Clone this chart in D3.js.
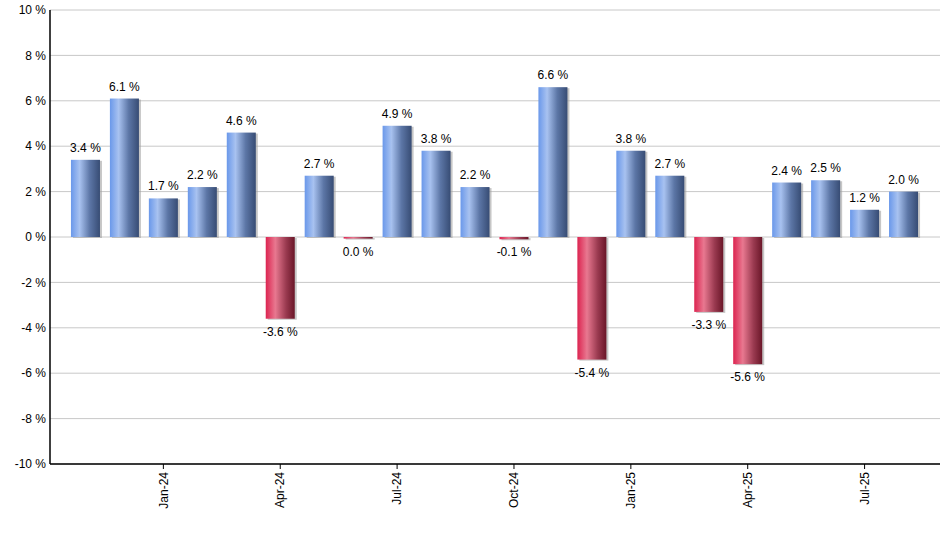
<!DOCTYPE html>
<html>
<head>
<meta charset="utf-8">
<script src="https://cdn.jsdelivr.net/npm/d3@7"></script>
<style>
  body { margin: 0; background: #fff; }
  svg { display: block; font-family: "Liberation Sans", Arial, sans-serif; }
</style>
</head>
<body>
<svg id="chart"></svg>
<script>
// monthly returns, Nov-23 .. Aug-25
const months = ["Nov-23", "Dec-23", "Jan-24", "Feb-24", "Mar-24", "Apr-24", "May-24", "Jun-24",
  "Jul-24", "Aug-24", "Sep-24", "Oct-24", "Nov-24", "Dec-24", "Jan-25", "Feb-25",
  "Mar-25", "Apr-25", "May-25", "Jun-25", "Jul-25", "Aug-25"];
const returns = [3.4, 6.1, 1.7, 2.2, 4.6, -3.6, 2.7, -0.04, 4.9, 3.8, 2.2, -0.1,
  6.6, -5.4, 3.8, 2.7, -3.3, -5.6, 2.4, 2.5, 1.2, 2.0];
const tickMonths = ["Jan-24", "Apr-24", "Jul-24", "Oct-24", "Jan-25", "Apr-25", "Jul-25"];
const yTicks = [-10, -8, -6, -4, -2, 0, 2, 4, 6, 8, 10];

const width = 940, height = 550;
const plot = { left: 50, right: 940, top: 10, bottom: 464 };

const svg = d3.select("#chart").attr("width", width).attr("height", height);

const data = months.map((m, i) => ({ month: m, value: returns[i] }));

const x = d3.scaleBand()
  .domain(months)
  .range([66, 923])
  .paddingInner(0.255)
  .paddingOuter(0.127);

const y = d3.scaleLinear()
  .domain([-10, 10])
  .range([plot.bottom, plot.top]);

// gradients
const defs = svg.append("defs");
function grad(id, stops) {
  const g = defs.append("linearGradient").attr("id", id)
    .attr("x1", "0%").attr("x2", "100%").attr("y1", "0%").attr("y2", "0%");
  stops.forEach(s => g.append("stop").attr("offset", s[0]).attr("stop-color", s[1]));
}
grad("blueGrad", [[0, "#6a98ea"], [0.3, "#a8c2f0"], [0.65, "#5c76a6"], [1, "#374c74"]]);
grad("redGrad", [[0, "#dc2450"], [0.33, "#e87890"], [0.7, "#9a3a50"], [1, "#6a1628"]]);

// gridlines
svg.append("g")
  .selectAll("line")
  .data(yTicks)
  .join("line")
  .attr("x1", plot.left).attr("x2", plot.right)
  .attr("y1", d => y(d)).attr("y2", d => y(d))
  .attr("stroke", "#c8c8c8").attr("stroke-width", 1);

// y labels
svg.append("g")
  .selectAll("text")
  .data(yTicks)
  .join("text")
  .attr("x", plot.left - 4)
  .attr("y", d => y(d))
  .attr("dy", "0.35em")
  .attr("text-anchor", "end")
  .attr("font-size", 12)
  .attr("fill", "#000")
  .text(d => d + " %");

const barH = d => Math.max(1.6, Math.abs(y(d.value) - y(0)));
const bars = svg.append("g");

// shadows
bars.selectAll(".shadow")
  .data(data)
  .join("rect")
  .attr("class", "shadow")
  .attr("x", d => x(d.month) + 2)
  .attr("y", d => Math.min(y(d.value), y(0)) + 1)
  .attr("width", x.bandwidth())
  .attr("height", barH)
  .attr("fill", "#a0a0a0")
  .attr("opacity", 0.6);

bars.selectAll(".bar")
  .data(data)
  .join("rect")
  .attr("class", "bar")
  .attr("x", d => x(d.month))
  .attr("y", d => Math.min(y(d.value), y(0)))
  .attr("width", x.bandwidth())
  .attr("height", barH)
  .attr("fill", d => d.value < 0 ? "url(#redGrad)" : "url(#blueGrad)");

function fmt(v) {
  const s = Math.abs(v).toFixed(1);
  return (v < 0 && s !== "0.0" ? "-" : "") + s + " %";
}

// value labels
svg.append("g")
  .selectAll("text")
  .data(data)
  .join("text")
  .attr("x", d => x(d.month) + x.bandwidth() / 2)
  .attr("y", d => d.value < 0 ? Math.max(y(d.value), y(0) + 1.6) + 17 : y(d.value) - 8)
  .attr("text-anchor", "middle")
  .attr("font-size", 12)
  .attr("fill", "#000")
  .text(d => fmt(d.value));

// axes lines
svg.append("line")
  .attr("x1", plot.left).attr("x2", plot.left)
  .attr("y1", plot.top).attr("y2", plot.bottom)
  .attr("stroke", "#000").attr("stroke-width", 1.5);
svg.append("line")
  .attr("x1", plot.left).attr("x2", plot.right)
  .attr("y1", plot.bottom).attr("y2", plot.bottom)
  .attr("stroke", "#000").attr("stroke-width", 1.5);

// month ticks
const xt = svg.append("g")
  .selectAll("g")
  .data(tickMonths)
  .join("g")
  .attr("transform", d => `translate(${x(d) + x.bandwidth() / 2},${plot.bottom})`);
xt.append("line").attr("y1", 0).attr("y2", 5).attr("stroke", "#000");
xt.append("text")
  .attr("transform", "rotate(-90)")
  .attr("x", -8)
  .attr("dy", "0.35em")
  .attr("text-anchor", "end")
  .attr("font-size", 12)
  .attr("fill", "#000")
  .text(d => d);
</script>
</body>
</html>
